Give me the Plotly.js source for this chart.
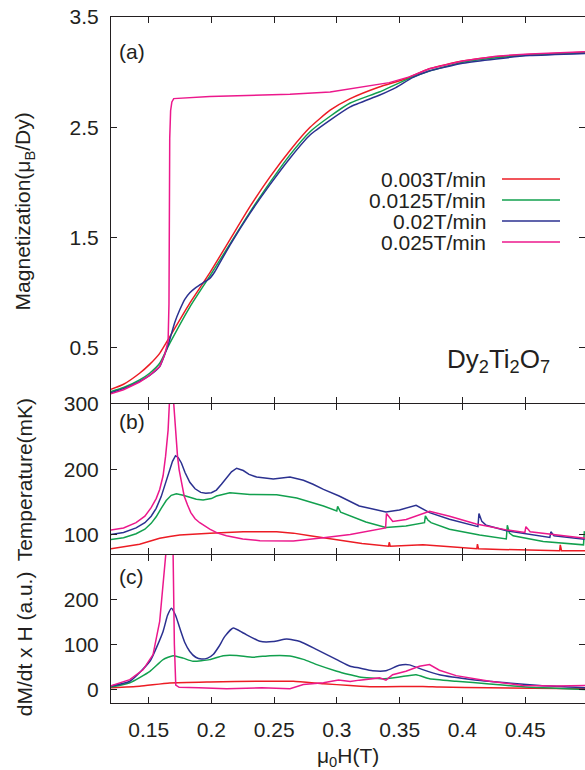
<!DOCTYPE html>
<html>
<head>
<meta charset="utf-8">
<script src="https://cdn.plot.ly/plotly-3.0.1.min.js"></script>
<style>html,body{margin:0;padding:0;background:#fff;}#chart{width:585px;height:770px;}</style>
</head>
<body>
<div id="chart"></div>
<script>
// ---------- data ----------
const seriesNames = ["0.003T/min", "0.0125T/min", "0.02T/min", "0.025T/min"];
const xTicks = [0.15, 0.2, 0.25, 0.3, 0.35, 0.4, 0.45];
const magTicks = [0.5, 1.5, 2.5, 3.5];
const tempTicks = [100, 200, 300];
const dmdtTicks = [0, 100, 200];

// Panel (a): magnetization
const redAx = [0.119, 0.13, 0.1428, 0.1508, 0.1588, 0.1668, 0.1828, 0.1987, 0.2147, 0.2307, 0.2467, 0.2626, 0.2786, 0.2946, 0.3106, 0.3337, 0.355, 0.3736, 0.4002, 0.4269, 0.4535, 0.4977];
const redAy = [0.12, 0.17, 0.27, 0.35, 0.45, 0.60, 0.906, 1.18, 1.48, 1.78, 2.05, 2.29, 2.50, 2.655, 2.76, 2.866, 2.94, 3.03, 3.10, 3.14, 3.16, 3.18];
const greenAx = [0.119, 0.13, 0.1428, 0.1508, 0.1588, 0.1668, 0.1828, 0.1987, 0.2147, 0.2307, 0.2467, 0.2626, 0.2786, 0.2946, 0.3106, 0.3337, 0.355, 0.3736, 0.4002, 0.4269, 0.4535, 0.4977];
const greenAy = [0.10, 0.14, 0.21, 0.27, 0.36, 0.54, 0.87, 1.15, 1.44, 1.73, 2.00, 2.25, 2.46, 2.60, 2.72, 2.82, 2.93, 3.01, 3.09, 3.13, 3.155, 3.175];
const blueAx = [0.119, 0.13, 0.1428, 0.1508, 0.1588, 0.1628, 0.1668, 0.1708, 0.1748, 0.1788, 0.1828, 0.1868, 0.1907, 0.1947, 0.1987, 0.2027, 0.2067, 0.2147, 0.2307, 0.2467, 0.2626, 0.2786, 0.2946, 0.3106, 0.3337, 0.347, 0.3603, 0.3736, 0.4002, 0.4269, 0.4535, 0.4977];
const blueAy = [0.09, 0.13, 0.196, 0.25, 0.33, 0.44, 0.574, 0.73, 0.845, 0.94, 1.0, 1.04, 1.07, 1.10, 1.13, 1.19, 1.27, 1.43, 1.72, 1.98, 2.22, 2.43, 2.565, 2.685, 2.79, 2.86, 2.95, 3.01, 3.08, 3.12, 3.15, 3.17];
const pinkAx = [0.119, 0.13, 0.1428, 0.1508, 0.1588, 0.1628, 0.1655, 0.1662, 0.1668, 0.1675, 0.1685, 0.170, 0.1987, 0.2307, 0.2626, 0.2946, 0.3204, 0.3417, 0.3577, 0.3736, 0.4002, 0.4269, 0.4535, 0.4977];
const pinkAy = [0.08, 0.12, 0.19, 0.25, 0.33, 0.44, 0.56, 0.9, 2.4, 2.65, 2.73, 2.76, 2.78, 2.79, 2.80, 2.82, 2.866, 2.905, 2.957, 3.03, 3.10, 3.145, 3.165, 3.185];

// Panel (b): temperature (mK)
const redBx = [0.119, 0.13, 0.1428, 0.1508, 0.1588, 0.1668, 0.1748, 0.1987, 0.2254, 0.252, 0.2653, 0.2786, 0.3006, 0.32, 0.3412, 0.3417, 0.3425, 0.36, 0.3685, 0.385, 0.4004, 0.4115, 0.412, 0.4128, 0.43, 0.4483, 0.4775, 0.478, 0.479, 0.4977];
const redBy = [77.6, 80.5, 85, 89.5, 94, 97, 99, 102, 104, 104, 102, 98, 92, 86, 82, 88, 82, 83, 84, 82, 80, 78, 85, 78, 77, 76, 75, 84, 75, 75];
const greenBx = [0.119, 0.13, 0.14, 0.147, 0.152, 0.156, 0.16, 0.164, 0.168, 0.1721, 0.1775, 0.1828, 0.188, 0.1934, 0.2, 0.2041, 0.21, 0.2147, 0.2307, 0.252, 0.268, 0.2893, 0.2999, 0.3006, 0.303, 0.3106, 0.3231, 0.339, 0.355, 0.3698, 0.3705, 0.3725, 0.375, 0.3897, 0.4137, 0.435, 0.4358, 0.4375, 0.4404, 0.4644, 0.4965, 0.4972];
const greenBy = [92, 95, 101, 108, 117, 127, 140, 152, 160, 162.4, 160, 157.4, 154, 152.8, 155, 159, 162, 164, 161.4, 161, 156, 143.7, 136, 143, 134, 128, 119, 110.7, 113, 118, 128.5, 122, 118, 108, 99, 93, 114, 102, 98, 89, 84, 105];
const blueBx = [0.119, 0.13, 0.14, 0.147, 0.152, 0.156, 0.16, 0.1635, 0.1668, 0.169, 0.1714, 0.1735, 0.1761, 0.179, 0.1828, 0.187, 0.1915, 0.1955, 0.2, 0.204, 0.208, 0.212, 0.216, 0.2201, 0.2254, 0.23, 0.236, 0.2493, 0.2626, 0.2733, 0.281, 0.2893, 0.3018, 0.3178, 0.33, 0.3391, 0.3498, 0.3631, 0.3738, 0.3897, 0.4124, 0.4132, 0.4155, 0.419, 0.4352, 0.4511, 0.4697, 0.4705, 0.473, 0.4974];
const blueBy = [99.5, 103, 110, 118, 128, 140, 158, 178, 199, 212, 220.7, 218, 209.6, 195, 180, 170, 164.5, 163, 164, 168, 177, 187, 196, 201.5, 198, 192, 188, 185, 188, 183, 177, 169, 159, 143.7, 138, 134.5, 137.6, 144.6, 133.5, 123.3, 112, 132, 120, 114, 105.6, 100.5, 95.4, 104, 98, 92.8];
const pinkBx = [0.119, 0.13, 0.14, 0.147, 0.152, 0.156, 0.1588, 0.1615, 0.1635, 0.1655, 0.1665, 0.1675, 0.1688, 0.170, 0.1716, 0.173, 0.1743, 0.1765, 0.1783, 0.181, 0.1836, 0.187, 0.1907, 0.1987, 0.205, 0.212, 0.225, 0.2387, 0.2653, 0.2893, 0.3106, 0.3388, 0.3395, 0.3445, 0.3552, 0.3738, 0.3898, 0.411, 0.435, 0.4498, 0.4506, 0.454, 0.475, 0.4977];
const pinkBy = [106.6, 110, 118, 128, 141, 155, 169, 190, 220, 260, 300, 450, 420, 300, 250, 220, 199, 175, 159, 145, 133.5, 124, 118, 108, 102, 98, 93, 90.4, 90, 95, 100, 110, 132, 120, 123, 135.5, 128, 116, 107, 103, 112, 104, 99, 94];

// Panel (c): dM/dt x H (a.u.)
const redCx = [0.119, 0.1428, 0.1668, 0.1987, 0.2387, 0.2653, 0.2893, 0.3106, 0.3284, 0.3685, 0.3817, 0.421, 0.4977];
const redCy = [3.8, 7.4, 14.8, 17, 18.5, 18.5, 13, 9, 6, 7, 5.5, 4, 1.5];
const greenCx = [0.119, 0.135, 0.151, 0.1615, 0.1695, 0.1775, 0.1854, 0.1987, 0.2094, 0.2201, 0.2334, 0.2467, 0.2626, 0.2733, 0.284, 0.2999, 0.3106, 0.318, 0.3364, 0.3497, 0.3631, 0.3738, 0.395, 0.4217, 0.4483, 0.4977];
const greenCy = [5, 15, 40.7, 66.7, 75.6, 70, 63, 66.7, 75.6, 76, 72, 75.6, 75, 67.3, 55.6, 41, 33, 28, 24, 28, 33, 24, 18.5, 12.6, 6, 0];
const blueCx = [0.119, 0.135, 0.151, 0.1615, 0.165, 0.1682, 0.1715, 0.1748, 0.1788, 0.1828, 0.1875, 0.1921, 0.197, 0.2014, 0.206, 0.2107, 0.2174, 0.2254, 0.2387, 0.2493, 0.26, 0.2706, 0.284, 0.2999, 0.3106, 0.318, 0.3284, 0.339, 0.3497, 0.3577, 0.3684, 0.3817, 0.4084, 0.435, 0.4617, 0.4977];
const blueCy = [7.4, 18.5, 63, 129.6, 165, 181.5, 165, 137, 105, 85, 72, 68, 70, 78, 96, 118.5, 137, 126, 107.5, 107, 112.6, 107, 89, 66.7, 52, 48, 42, 42, 54, 55, 44.4, 33, 22, 15, 8.9, 3.8];
const pinkCx = [0.119, 0.135, 0.1455, 0.1535, 0.1588, 0.1615, 0.1636, 0.165, 0.168, 0.1695, 0.1705, 0.1716, 0.1743, 0.19, 0.2121, 0.24, 0.2626, 0.2733, 0.2893, 0.3013, 0.3106, 0.318, 0.334, 0.3391, 0.3444, 0.355, 0.3657, 0.3738, 0.3817, 0.395, 0.4217, 0.4483, 0.475, 0.4977];
const pinkCy = [7.4, 22, 44, 78, 152, 226, 300, 420, 450, 300, 100, 10, 5, 3.8, 1.5, 3.8, 2, 11, 15, 21.5, 18, 21, 26, 21, 33, 40.7, 52, 55.6, 43, 31, 18.5, 9, 8, 9];

// ---------- style ----------
const colors = ["#ec1c24", "#12a04e", "#2b3190", "#ec188c"];
const FONT = "Liberation Sans, Arial, Helvetica, sans-serif";
const INK = "#231f20";
const FS = 21;

function tr(x, y, ci, xa, ya, smooth) {
  return {x: x, y: y, xaxis: xa, yaxis: ya, type: "scatter", mode: "lines",
    line: {color: colors[ci], width: 1.5, shape: smooth ? "spline" : "linear", smoothing: 0.5},
    showlegend: false, hoverinfo: "skip"};
}

const data = [
  tr(redAx, redAy, 0, "x", "y", true),
  tr(greenAx, greenAy, 1, "x", "y", true),
  tr(blueAx, blueAy, 2, "x", "y", true),
  tr(pinkAx, pinkAy, 3, "x", "y", false),
  tr(redBx, redBy, 0, "x2", "y2", false),
  tr(greenBx, greenBy, 1, "x2", "y2", false),
  tr(blueBx, blueBy, 2, "x2", "y2", false),
  tr(pinkBx, pinkBy, 3, "x2", "y2", false),
  tr(redCx, redCy, 0, "x3", "y3", true),
  tr(greenCx, greenCy, 1, "x3", "y3", true),
  tr(blueCx, blueCy, 2, "x3", "y3", true),
  tr(pinkCx, pinkCy, 3, "x3", "y3", false)
];

function xax(anchor, labels) {
  return {anchor: anchor, range: [0.12, 0.4977], tickvals: xTicks, ticks: "inside", ticklen: 6,
    tickcolor: INK, tickwidth: 1, showline: true, linecolor: INK, linewidth: 1, mirror: "ticks",
    showgrid: false, zeroline: false, showticklabels: labels, ticklabelstandoff: 8,
    tickfont: {family: FONT, size: FS, color: INK}};
}
function yax(anchor, domain, range, vals) {
  return {anchor: anchor, domain: domain, range: range, tickvals: vals, ticks: "inside", ticklen: 6,
    tickcolor: INK, tickwidth: 1, showline: true, linecolor: INK, linewidth: 1, mirror: "ticks",
    showgrid: false, zeroline: false, ticklabelstandoff: 7,
    tickfont: {family: FONT, size: FS, color: INK}};
}

const annotations = [];
function ann(text, x, y, opts) {
  annotations.push(Object.assign({text: text, x: x, y: y, xref: "paper", yref: "paper", showarrow: false,
    font: {family: FONT, size: FS, color: INK}}, opts || {}));
}
ann("Magnetization(μ<sub>B</sub>/Dy)", -0.183, 0.717, {textangle: -90, xanchor: "center", yanchor: "middle"});
ann("Temperature(mK)", -0.183, 0.325, {textangle: -90, xanchor: "center", yanchor: "middle"});
ann("dM/dt x H (a.u.)", -0.183, 0.086, {textangle: -90, xanchor: "center", yanchor: "middle"});
ann("μ<sub>0</sub>H(T)", 0.5, -0.078, {xanchor: "center", yanchor: "middle"});
ann("(a)", 0.012, 0.949, {xanchor: "left", yanchor: "middle"});
ann("(b)", 0.012, 0.411, {xanchor: "left", yanchor: "middle"});
ann("(c)", 0.012, 0.185, {xanchor: "left", yanchor: "middle"});
ann("Dy<sub>2</sub>Ti<sub>2</sub>O<sub>7</sub>", 0.705, 0.50, {xanchor: "left", yanchor: "middle", font: {family: FONT, size: 26, color: INK}});

const legY = [0.7637, 0.7331, 0.7025, 0.6719];
const shapes = [];
seriesNames.forEach(function (n, i) {
  ann(n, 0.7954, legY[i], {xanchor: "right", yanchor: "middle"});
  shapes.push({type: "line", xref: "paper", yref: "paper", x0: 0.8249, x1: 0.9473, y0: legY[i], y1: legY[i],
    line: {color: colors[i], width: 1.5}});
});

const layout = {
  width: 585, height: 770,
  margin: {l: 111, r: 0, t: 17, b: 67},
  paper_bgcolor: "#ffffff", plot_bgcolor: "#ffffff",
  showlegend: false,
  font: {family: FONT, color: INK},
  xaxis: xax("y", false),
  xaxis2: Object.assign(xax("y2", false), {matches: "x"}),
  xaxis3: Object.assign(xax("y3", true), {matches: "x"}),
  yaxis: yax("x", [0.43732, 1], [0, 3.5], magTicks),
  yaxis2: yax("x2", [0.21720, 0.43586], [70, 300], tempTicks),
  yaxis3: yax("x3", [0, 0.21574], [-30, 300], dmdtTicks),
  annotations: annotations,
  shapes: shapes
};

Plotly.newPlot("chart", data, layout, {staticPlot: true, displayModeBar: false});
</script>
</body>
</html>
